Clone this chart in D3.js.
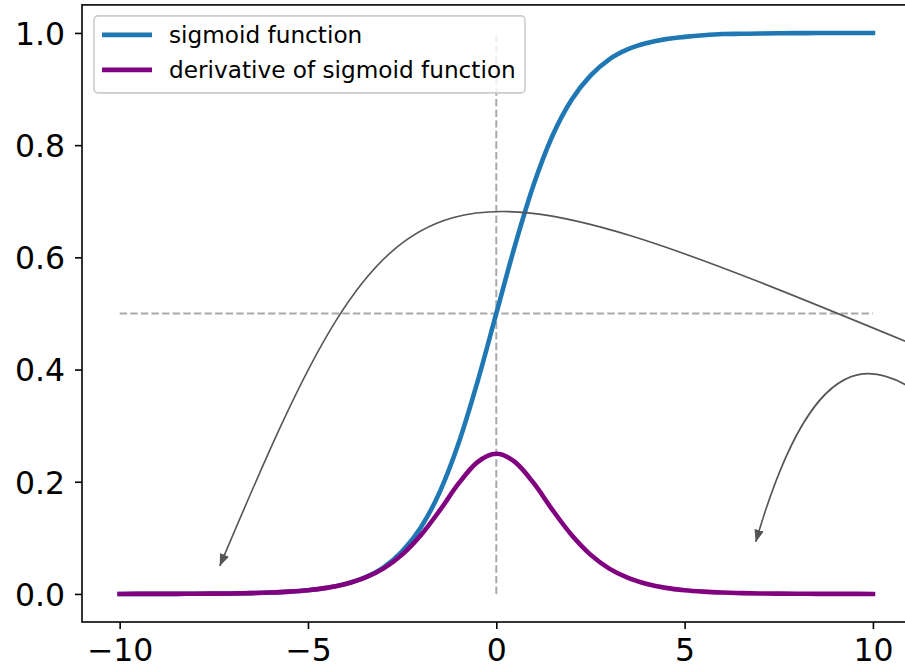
<!DOCTYPE html>
<html>
<head>
<meta charset="utf-8">
<script src="https://cdn.jsdelivr.net/npm/d3@7"></script>
<style>
  body { margin: 0; background: #fff; }
  svg { display: block; font-family: "DejaVu Sans", sans-serif; }
</style>
</head>
<body>
<svg class="chart" width="905" height="668"></svg>
<script>
// values
var xs = [-10, -9.5, -9, -8.5, -8, -7.5, -7, -6.5, -6, -5.5, -5, -4.5, -4, -3.5, -3, -2.5, -2, -1.5, -1, -0.5,
          0, 0.5, 1, 1.5, 2, 2.5, 3, 3.5, 4, 4.5, 5, 5.5, 6, 6.5, 7, 7.5, 8, 8.5, 9, 9.5, 10];

var sigmoid = [0.0000, 0.0001, 0.0001, 0.0002, 0.0003, 0.0006, 0.0009, 0.0015, 0.0025, 0.0041,
               0.0067, 0.011, 0.018, 0.029, 0.047, 0.076, 0.119, 0.182, 0.269, 0.378,
               0.500, 0.622, 0.731, 0.818, 0.881, 0.924, 0.953, 0.971, 0.982, 0.989,
               0.993, 0.996, 0.998, 0.9985, 0.999, 0.9994, 0.9997, 0.9998, 0.9999, 0.9999, 1.0];

var derivative = [0.0000, 0.0001, 0.0001, 0.0002, 0.0003, 0.0006, 0.0009, 0.0015, 0.0025, 0.0041,
                  0.0066, 0.0108, 0.0177, 0.0285, 0.0452, 0.0701, 0.105, 0.149, 0.197, 0.235,
                  0.250, 0.235, 0.197, 0.149, 0.105, 0.0701, 0.0452, 0.0285, 0.0177, 0.0108,
                  0.0066, 0.0041, 0.0025, 0.0015, 0.0009, 0.0006, 0.0003, 0.0002, 0.0001, 0.0001, 0.0000];

var seriesNames = ['sigmoid function', 'derivative of sigmoid function'];
var seriesColors = ['#1f77b4', '#800080'];

var xTicks = [-10, -5, 0, 5, 10];
var yTicks = [0.0, 0.2, 0.4, 0.6, 0.8, 1.0];

// guide lines (data coords)
var hGuide = [[-10, 0.5], [10, 0.5]];
var vGuide = [[0, 0], [0, 1]];

// curved annotation arrows, cubic control points in data coords [start, c1, c2, tip]
var arrows = [
  [[13.37, 0.381], [-1.95, 0.804], [-2.30, 0.854], [-7.34, 0.050]],
  [[13.37, 0.248], [11.57, 0.301], [9.18, 0.622], [6.89, 0.093]]
];

var margin = {top: 4.9, right: -5.6, bottom: 46, left: 82},
    width = 905 - margin.left - margin.right,
    height = 668 - margin.top - margin.bottom;

var svg = d3.select(".chart");

var defs = svg.append("defs");
defs.append("marker")
    .attr("id", "head")
    .attr("markerUnits", "userSpaceOnUse")
    .attr("markerWidth", 14)
    .attr("markerHeight", 12)
    .attr("viewBox", "0 -6 14 12")
    .attr("refX", 12)
    .attr("refY", 0)
    .attr("orient", "auto")
  .append("path")
    .attr("d", "M0,-4.8L12.5,0L0,4.8Z")
    .attr("fill", "#555");

var chart = svg.append("g")
    .attr("transform", "translate(" + margin.left + "," + margin.top + ")");

var x = d3.scaleLinear().domain([-11, 11]).range([0, width]);
var y = d3.scaleLinear().domain([-0.05, 1.05]).range([height, 0]);

// axes
var xAxis = d3.axisBottom(x).tickValues(xTicks).tickSize(7).tickPadding(9)
    .tickFormat(function(d) { return d < 0 ? "\u2212" + Math.abs(d) : d; });
var yAxis = d3.axisLeft(y).tickValues(yTicks).tickSize(7).tickPadding(10)
    .tickFormat(d3.format(".1f"));

var gx = chart.append("g")
    .attr("class", "x axis")
    .attr("transform", "translate(0," + height + ")")
    .call(xAxis);
var gy = chart.append("g")
    .attr("class", "y axis")
    .call(yAxis);

[gx, gy].forEach(function(g) {
  g.select(".domain").remove();
  g.selectAll(".tick line").attr("stroke", "#000").attr("stroke-width", 1.6);
  g.selectAll(".tick text").attr("fill", "#000").attr("font-size", 31.5)
    .attr("font-family", "DejaVu Sans");
});
gx.selectAll(".tick text").attr("dy", "0.73em");
gy.selectAll(".tick text").attr("dy", "0.36em");

// dashed guides
var line = d3.line()
    .x(function(d) { return x(d[0]); })
    .y(function(d) { return y(d[1]); });

[hGuide, vGuide].forEach(function(g) {
  chart.append("path")
      .attr("d", line(g))
      .attr("fill", "none")
      .attr("stroke", "#a9a9a9")
      .attr("stroke-width", 2)
      .attr("stroke-dasharray", "7.4,3.2");
});

// curves
var curve = d3.line()
    .x(function(d, i) { return x(xs[i]); })
    .y(function(d) { return y(d); })
    .curve(d3.curveMonotoneX);

[sigmoid, derivative].forEach(function(s, i) {
  chart.append("path")
      .attr("d", curve(s))
      .attr("fill", "none")
      .attr("stroke", seriesColors[i])
      .attr("stroke-width", 4.6)
      .attr("stroke-linecap", "square");
});

// spines (right spine falls outside the picture)
chart.append("rect")
    .attr("x", 0).attr("y", 0)
    .attr("width", width).attr("height", height)
    .attr("fill", "none")
    .attr("stroke", "#000")
    .attr("stroke-width", 1.6);

// legend
var legend = chart.append("g")
    .attr("transform", "translate(12,11)");

legend.append("rect")
    .attr("x", 0).attr("y", 0)
    .attr("width", 431).attr("height", 77)
    .attr("rx", 4)
    .attr("fill", "rgba(255,255,255,0.8)")
    .attr("stroke", "#cccccc")
    .attr("stroke-width", 1.6);

seriesNames.forEach(function(name, i) {
  var row = legend.append("g").attr("transform", "translate(0," + (19 + i * 35) + ")");
  row.append("line")
      .attr("x1", 8).attr("x2", 58)
      .attr("stroke", seriesColors[i])
      .attr("stroke-width", 4.6);
  row.append("text")
      .attr("x", 75)
      .attr("dy", "0.36em")
      .attr("font-size", 23.2)
      .attr("fill", "#000")
      .text(name);
});

// annotation arrows
arrows.forEach(function(a) {
  var p = d3.path();
  p.moveTo(x(a[0][0]), y(a[0][1]));
  p.bezierCurveTo(x(a[1][0]), y(a[1][1]), x(a[2][0]), y(a[2][1]), x(a[3][0]), y(a[3][1]));
  chart.append("path")
      .attr("d", p.toString())
      .attr("fill", "none")
      .attr("stroke", "#555")
      .attr("stroke-width", 1.6)
      .attr("marker-end", "url(#head)");
});
</script>
</body>
</html>
